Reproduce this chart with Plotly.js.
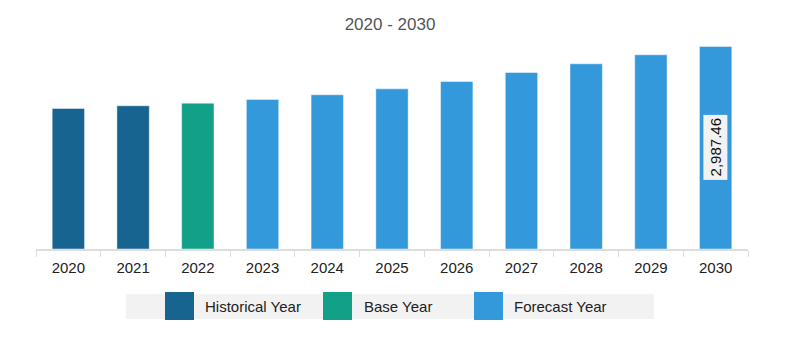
<!DOCTYPE html>
<html>
<head>
<meta charset="utf-8">
<script src="https://cdn.plot.ly/plotly-3.0.1.min.js"></script>
<style>html,body{margin:0;padding:0;background:#fff;}#chart{width:790px;height:359px;}</style>
</head>
<body>
<div id="chart"></div>
<script>
const years = ['2020','2021','2022','2023','2024','2025','2026','2027','2028','2029','2030'];
const values = [2073, 2113, 2151, 2206, 2275, 2363, 2471, 2604, 2732, 2865, 2987.46];
const yearType = ['Historical Year','Historical Year','Base Year','Forecast Year','Forecast Year','Forecast Year','Forecast Year','Forecast Year','Forecast Year','Forecast Year','Forecast Year'];
const legendNames = ['Historical Year','Base Year','Forecast Year'];
const labelIndex = 10;
const chartTitle = '2020 - 2030';

const colorMap = {'Historical Year':'#186491','Base Year':'#13a089','Forecast Year':'#3499da'};
const fontFam = '"Liberation Sans", Arial, sans-serif';

const trace = {
  type:'bar', x: years, y: values,
  marker:{color: yearType.map(t=>colorMap[t]), line:{color:'rgba(255,255,255,0.45)', width:1}},
  hoverinfo:'none', showlegend:false
};

// plot area in pixels: x 36..748, y 40..249
const L=36, R=748, T=40, B=249;
const px = v => (v-L)/(R-L);
const py = v => (B-v)/(B-T);

const shapes = [{type:'rect', xref:'paper', yref:'paper', x0:px(126), x1:px(654), y0:py(294), y1:py(319), fillcolor:'#f2f2f2', line:{width:0}, layer:'below'}];
const annotations = [];
const swatchX = [165, 323, 474];
const textX = [203, 362, 512];
legendNames.forEach((n,i)=>{
  shapes.push({type:'rect', xref:'paper', yref:'paper', x0:px(swatchX[i]), x1:px(swatchX[i]+29), y0:py(292), y1:py(320), fillcolor:colorMap[n], line:{width:0}});
  annotations.push({xref:'paper', yref:'paper', x:px(textX[i]), y:py(306), xanchor:'left', yanchor:'middle', text:n, showarrow:false, font:{family:fontFam, size:15, color:'#222'}});
});
annotations.push({x: labelIndex, y: values[labelIndex]/2, xref:'x', yref:'y',
  text: values[labelIndex].toLocaleString('en-US',{minimumFractionDigits:2}), textangle:-90, showarrow:false,
  bgcolor:'#f2f2f2', borderpad:3, font:{family:fontFam, size:15, color:'#111'}});

const layout = {
  width:790, height:359,
  margin:{l:L, r:790-R, t:T, b:359-B},
  paper_bgcolor:'#fff', plot_bgcolor:'#fff',
  title:{text:chartTitle, x:390/790, xanchor:'center', y:1-24/359, yanchor:'middle', font:{family:fontFam, size:17, color:'#555'}},
  bargap:0.5,
  xaxis:{type:'category', range:[-0.5, years.length-0.5], autorange:false, showline:true, linecolor:'#dddddd', linewidth:2, ticks:'outside', tickson:'boundaries', ticklen:6, tickcolor:'#dddddd', tickwidth:1,
    tickangle:0, ticklabelstandoff:4, tickfont:{family:fontFam, size:15, color:'#222'}, showgrid:false, zeroline:false, fixedrange:true},
  yaxis:{range:[0, 14.753*(B-T)], autorange:false, visible:false, showgrid:false, zeroline:false, fixedrange:true},
  shapes: shapes, annotations: annotations, showlegend:false
};
Plotly.newPlot('chart', [trace], layout, {displayModeBar:false, staticPlot:true});
</script>
</body>
</html>
